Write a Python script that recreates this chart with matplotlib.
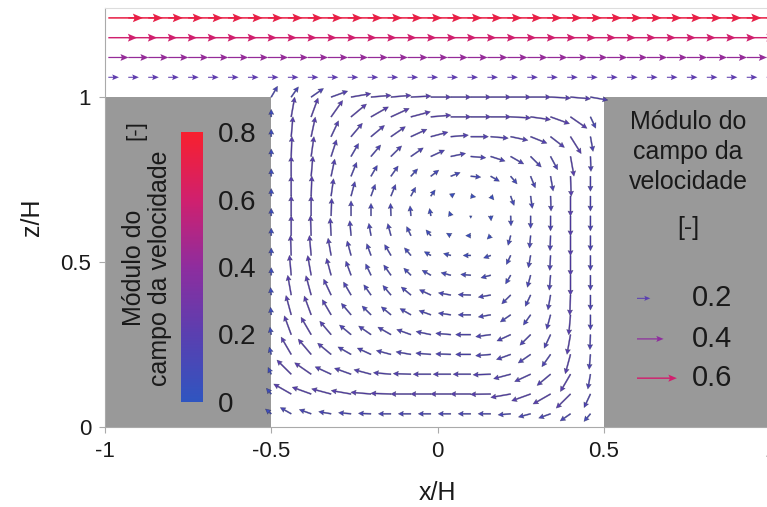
import numpy as np
import matplotlib
matplotlib.use("Agg")
from matplotlib import pyplot as plt
from matplotlib.colors import LinearSegmentedColormap, Normalize

plt.rcParams["font.family"] = ["Liberation Sans", "DejaVu Sans"]

# cavity walls
cav_left, cav_right, cav_top = -0.5, 0.5, 1.0

# cavity grid: 17 columns from the left wall, 17 rows from the lid down
cav_x = np.linspace(-0.5, 0.46, 17)
cav_z = np.linspace(1.0, 0.04, 17)

# arrow direction in degrees (0 = +x, 90 = +z), one row per z level, top row first
cav_angle = [
    [60, 55, 35, 20, 10, 5, 5, 3, 0, 0, 0, 0, 0, 0, -3, -5, -10],
    [90, 80, 70, 55, 40, 30, 25, 15, 5, 0, 0, 0, -3, -8, -20, -35, -65],
    [90, 85, 78, 65, 50, 40, 35, 25, 15, 5, 0, -5, -12, -22, -38, -58, -80],
    [90, 88, 82, 72, 60, 50, 45, 35, 25, 12, -5, -18, -30, -45, -62, -80, -88],
    [90, 90, 85, 78, 68, 60, 55, 48, 38, 22, -5, -30, -50, -68, -80, -88, -90],
    [90, 90, 88, 82, 75, 70, 68, 62, 55, 35, -10, -50, -70, -82, -88, -90, -90],
    [90, 90, 90, 88, 90, 90, 92, 95, 100, 110, -90, -85, -88, -90, -90, -90, -90],
    [90, 90, 92, 93, 95, 100, 105, 115, 130, 150, 180, -135, -105, -95, -92, -90, -90],
    [90, 92, 95, 100, 105, 110, 120, 130, 150, 165, 180, -160, -115, -100, -93, -90, -90],
    [90, 95, 100, 105, 110, 115, 125, 135, 150, 165, 175, -165, -120, -105, -95, -90, -90],
    [95, 100, 105, 115, 120, 125, 130, 140, 155, 170, 178, -170, -135, -115, -100, -92, -90],
    [95, 105, 110, 120, 130, 135, 140, 150, 160, 172, 180, -170, -145, -125, -105, -95, -90],
    [100, 110, 120, 130, 140, 145, 150, 160, 168, 175, 180, -172, -155, -135, -115, -100, -92],
    [105, 120, 130, 140, 150, 155, 165, 170, 175, 178, 180, -175, -160, -145, -125, -105, -95],
    [115, 135, 145, 155, 160, 165, 175, 178, 180, 180, 180, -178, -165, -155, -140, -120, -100],
    [130, 150, 160, 165, 170, 175, 178, 180, 180, 180, 180, -179, -170, -160, -150, -135, -115],
    [140, 150, 160, 170, 175, 178, 180, 180, 180, 180, 180, 180, -175, -165, -160, -145, -130],
]

# speed per arrow, digits in steps of 0.025
cav_speed = [
    "55678888888888887",
    "38888888888888885",
    "38877777777777786",
    "38876666666666686",
    "38876554444445686",
    "38876554322245686",
    "38876554321245686",
    "38876554322245686",
    "38876554333345686",
    "38876554444445686",
    "38876555555555686",
    "38876555555555686",
    "38876666666666686",
    "38876666666666686",
    "38877777777777786",
    "38888888888888886",
    "35555555555555554",
]

# flow above the cavity: horizontal rows
top_z = [1.06, 1.12, 1.18, 1.24]
top_speed = [0.22, 0.42, 0.6, 0.72]
top_x = np.arange(-0.99, 1.0, 0.06)

key_speed = [0.2, 0.4, 0.6]
cbar_ticks = [0, 0.2, 0.4, 0.6, 0.8]

cmap = LinearSegmentedColormap.from_list(
    "bluered",
    [(0, "#2f55c0"), (0.25, "#5a3fb0"), (0.5, "#8e2d9e"), (0.75, "#d0206e"), (1.0, "#f8202e")],
)
norm = Normalize(0, 0.8)

fig = plt.figure(figsize=(7.67, 5.07), dpi=100)
ax = fig.add_axes([105 / 767, 80 / 507, 665 / 767, 419 / 507])
ax.set_xlim(-1, 1)
ax.set_ylim(0, 1.27)

# grey blocks either side of the cavity
ax.fill_between([-1, cav_left], 0, cav_top, color="#999999", lw=0, zorder=1)
ax.fill_between([cav_right, 1], 0, cav_top, color="#999999", lw=0, zorder=1)

# cavity vortex
X, Z = np.meshgrid(cav_x, cav_z)
ang = np.radians(np.array(cav_angle, dtype=float))
S = np.array([[int(c) * 0.025 for c in row] for row in cav_speed])
U = S * np.cos(ang)
W = S * np.sin(ang)
ax.quiver(X, Z, U, W, S, cmap=cmap, norm=norm, angles="xy", scale_units="xy",
          scale=3.3, width=0.0017, headwidth=4.5, headlength=4.5, headaxislength=4,
          pivot="tail", edgecolors=(0.12, 0.12, 0.3, 0.55), linewidths=0.4, zorder=3)

# free stream rows
for z, s in zip(top_z, top_speed):
    ax.quiver(top_x, np.full_like(top_x, z), np.full_like(top_x, s),
              np.zeros_like(top_x), color=cmap(norm(s)), angles="xy",
              scale_units="xy", scale=6.9, width=0.0012 + 0.0016 * s,
              headwidth=5.5, headlength=6.5, headaxislength=5.5, zorder=3)

# arrow legend on the right (tails at x = 0.6)
key_x = np.full(3, 0.6)
key_z = np.array([0.39, 0.267, 0.148])
for x, z, s in zip(key_x, key_z, key_speed):
    ax.quiver([x], [z], [s], [0], color=cmap(norm(s)), angles="xy",
              scale_units="xy", scale=5.0, width=0.0012 + 0.0016 * s,
              headwidth=5, headlength=6, headaxislength=5, zorder=3)
    ax.text(0.765, z, f"{s:g}", ha="left", va="center", fontsize=21, color="#1a1a1a")

fig.text(688 / 767, 1 - 152 / 507, "Módulo do\ncampo da\nvelocidade",
         ha="center", va="center", fontsize=18, linespacing=1.3, color="#1a1a1a")
fig.text(688 / 767, 1 - 228 / 507, "[-]", ha="center", va="center",
         fontsize=18, color="#1a1a1a")

# colour bar inside the left block
cax = fig.add_axes([181 / 767, 105 / 507, 22 / 767, 270 / 507])
sm = plt.cm.ScalarMappable(norm=norm, cmap=cmap)
cb = fig.colorbar(sm, cax=cax, ticks=cbar_ticks)
cb.outline.set_visible(False)
cb.ax.set_yticklabels([f"{t:g}" for t in cbar_ticks])
cb.ax.tick_params(length=0, pad=11, labelsize=20, colors="#1a1a1a")
fig.text(147 / 767, 1 - 268 / 507, "Módulo do\ncampo da velocidade", rotation=90,
         ha="center", va="center", fontsize=18, linespacing=1.15, color="#1a1a1a")
fig.text(136 / 767, 1 - 130 / 507, "[-]", rotation=90, ha="center", va="center",
         fontsize=16, color="#1a1a1a")

# axes styling
ax.set_xticks([-1, -0.5, 0, 0.5, 1], labels=["-1", "-0.5", "0", "0.5", "1"])
ax.set_yticks([0, 0.5, 1], labels=["0", "0.5", "1"])
ax.tick_params(length=4, color="#aaaaaa", labelsize=16, pad=6, labelcolor="#1a1a1a")
for side in ["left", "bottom"]:
    ax.spines[side].set_color("#aaaaaa")
ax.spines["top"].set_color("#dddddd")
ax.spines["right"].set_visible(False)
ax.set_xlabel("x/H", fontsize=18, labelpad=14, color="#1a1a1a")
ax.set_ylabel("z/H", fontsize=18, labelpad=12, color="#1a1a1a")

fig.savefig("out.png", dpi=100)
